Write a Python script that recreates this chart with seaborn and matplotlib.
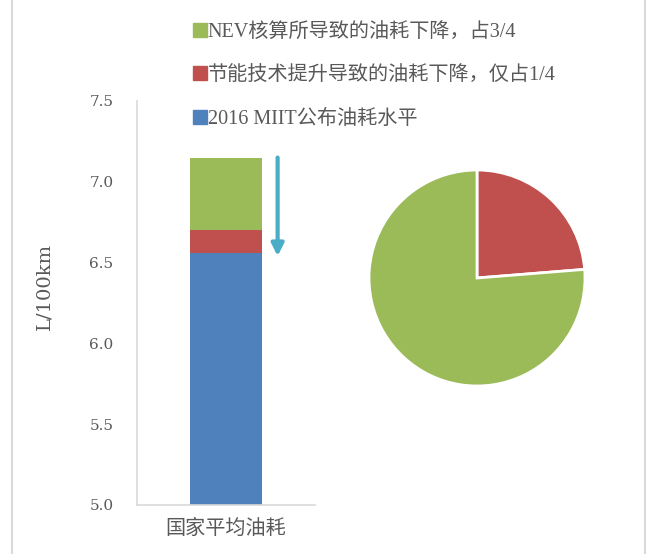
import matplotlib
matplotlib.use('Agg')
import matplotlib.pyplot as plt
import seaborn as sns
from matplotlib.lines import Line2D

# values (L/100km)
category = ['国家平均油耗']
miit_2016 = [6.56]        # 2016 MIIT公布油耗水平
tech_drop = [0.14]        # 节能技术提升导致的油耗下降
nev_drop = [0.45]         # NEV核算所导致的油耗下降
labels = ['NEV核算所导致的油耗下降，占3/4',
          '节能技术提升导致的油耗下降，仅占1/4',
          '2016 MIIT公布油耗水平']
yticks = [5.0, 5.5, 6.0, 6.5, 7.0, 7.5]

green = '#9BBB59'
red = '#C0504D'
blue = '#4F81BD'
teal = '#4BACC6'
grey_txt = '#595959'
grey_line = '#D9D9D9'

sns.set_style('white')
plt.rcParams['font.family'] = ['Liberation Serif', 'Noto Sans CJK SC', 'DejaVu Sans']

fig = plt.figure(figsize=(6.5, 5.54), dpi=100)
ax = fig.add_axes([137/650, 1-505/554, 178/650, 404/554])

lvl1 = [a + b for a, b in zip(miit_2016, tech_drop)]
lvl2 = [a + b for a, b in zip(lvl1, nev_drop)]

# stacked bar: draw tallest first
sns.barplot(x=category, y=lvl2, color=green, saturation=1, width=0.4, ax=ax)
sns.barplot(x=category, y=lvl1, color=red, saturation=1, width=0.4, ax=ax)
sns.barplot(x=category, y=miit_2016, color=blue, saturation=1, width=0.4, ax=ax)
for p in ax.patches:
    p.set_linewidth(0)

ax.set_ylim(5.0, 7.5)
ax.set_xlim(-0.5, 0.5)
ax.tick_params(axis='y', direction='in', length=4, color=grey_line, pad=17)
ax.tick_params(axis='x', length=0, pad=9, labelsize=14.5, labelcolor=grey_txt)
ax.set_yticks(yticks)
ax.set_yticklabels([f'{v:.1f}' for v in yticks])
for lab in ax.get_yticklabels():
    lab.set_fontfamily('DejaVu Serif')
    lab.set_fontsize(11)
    lab.set_color(grey_txt)
for lab in ax.get_xticklabels():
    lab.set_fontfamily('Noto Sans CJK SC')
sns.despine(ax=ax)
for s in ['left', 'bottom']:
    ax.spines[s].set_color(grey_line)
    ax.spines[s].set_linewidth(1.2)
ax.set_ylabel('L/100km', fontsize=14, color=grey_txt, fontfamily='DejaVu Serif')
ax.yaxis.set_label_coords(-0.47, 0.54)
ax.set_xlabel('')

# downward arrow next to the bar
ax.annotate('', xy=(0.29, miit_2016[0] - 0.02), xytext=(0.29, lvl2[0]),
            arrowprops=dict(arrowstyle='-|>', color=teal, lw=3, mutation_scale=18,
                            shrinkA=0, shrinkB=0))

# pie of the two drops
pax = fig.add_axes([(477-108)/650, 1-(278+108)/554, 216/650, 216/554])
pax.pie([tech_drop[0], nev_drop[0]], colors=[red, green], startangle=90,
        counterclock=False, wedgeprops=dict(edgecolor='white', linewidth=2))
pax.set_xlim(-1, 1)
pax.set_ylim(-1, 1)

handles = [Line2D([], [], marker='s', linestyle='', markersize=9.5, color=c)
           for c in [green, red, blue]]
fig.legend(handles, labels, loc='upper left', bbox_to_anchor=(194/650, 1-23/554),
           frameon=False, fontsize=14.5, handletextpad=0.14, handlelength=0.55,
           labelspacing=1.2, borderpad=0, borderaxespad=0, labelcolor=grey_txt)

# thin frame lines at the image edges
fig.add_artist(Line2D([12/650, 12/650], [0, 1], color=grey_line, lw=1.5))
fig.add_artist(Line2D([645/650, 645/650], [0, 1], color=grey_line, lw=1.5))

fig.savefig('out.png', dpi=100)
